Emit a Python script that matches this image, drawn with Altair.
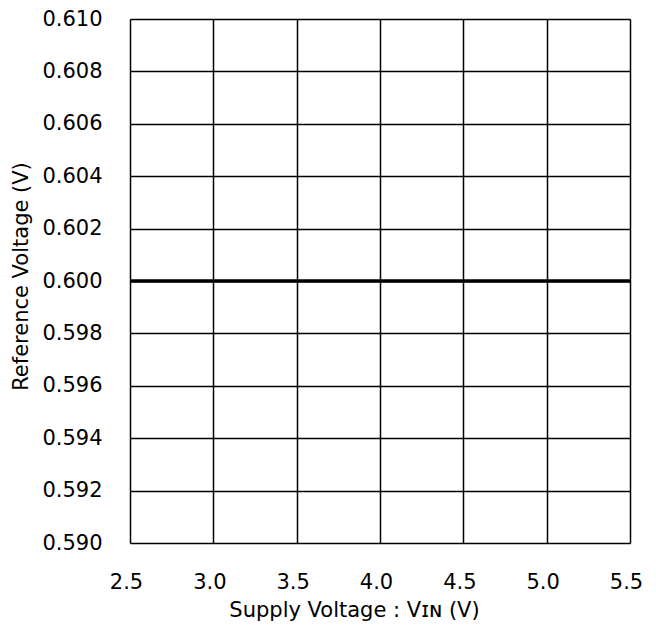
import altair as alt
import pandas as pd

vin = [2.5, 5.5]
vref = [0.600, 0.600]
x_ticks = [2.5, 3.0, 3.5, 4.0, 4.5, 5.0, 5.5]
y_ticks = [0.590, 0.592, 0.594, 0.596, 0.598, 0.600, 0.602, 0.604, 0.606, 0.608, 0.610]

df = pd.DataFrame({"vin": vin, "vref": vref})

FONT = "DejaVu Sans"
FS = 21

chart = alt.Chart(df).mark_line(color="black", strokeWidth=3.5, clip=True).encode(
    x=alt.X("vin:Q",
            scale=alt.Scale(domain=[2.5, 5.5], nice=False, zero=False),
            axis=alt.Axis(values=x_ticks, format=".1f", title="Supply Voltage : Vɪɴ (V)",
                          grid=True, gridColor="black", gridWidth=1.5, gridOpacity=1,
                          ticks=False, domain=False,
                          labelFont=FONT, labelFontSize=FS, labelColor="black",
                          labelPadding=28, labelBaseline="top", labelOffset=-4,
                          labelFlush=False,
                          titleFont=FONT, titleFontSize=FS, titleFontWeight="normal",
                          titleColor="black", titleX=224, titleY=67,
                          titleBaseline="middle", titleAlign="center")),
    y=alt.Y("vref:Q",
            scale=alt.Scale(domain=[0.590, 0.610], nice=False, zero=False),
            axis=alt.Axis(values=y_ticks, format=".3f", title="Reference Voltage (V)",
                          grid=True, gridColor="black", gridWidth=1.5, gridOpacity=1,
                          ticks=False, domain=False,
                          labelFont=FONT, labelFontSize=FS, labelColor="black",
                          labelPadding=28, labelFlush=False,
                          titleFont=FONT, titleFontSize=FS, titleFontWeight="normal",
                          titleColor="black", titleX=-109, titleY=257, titleAngle=-90,
                          titleBaseline="middle", titleAlign="center")),
).properties(
    width=500, height=524,
    autosize=alt.AutoSizeParams(type="none"),
    padding={"left": 122, "top": 11, "right": 18, "bottom": 82},
).configure_view(stroke="black", strokeWidth=2).configure(background="white")

chart.save("out.html", embed_options={"renderer": "svg", "actions": False})
